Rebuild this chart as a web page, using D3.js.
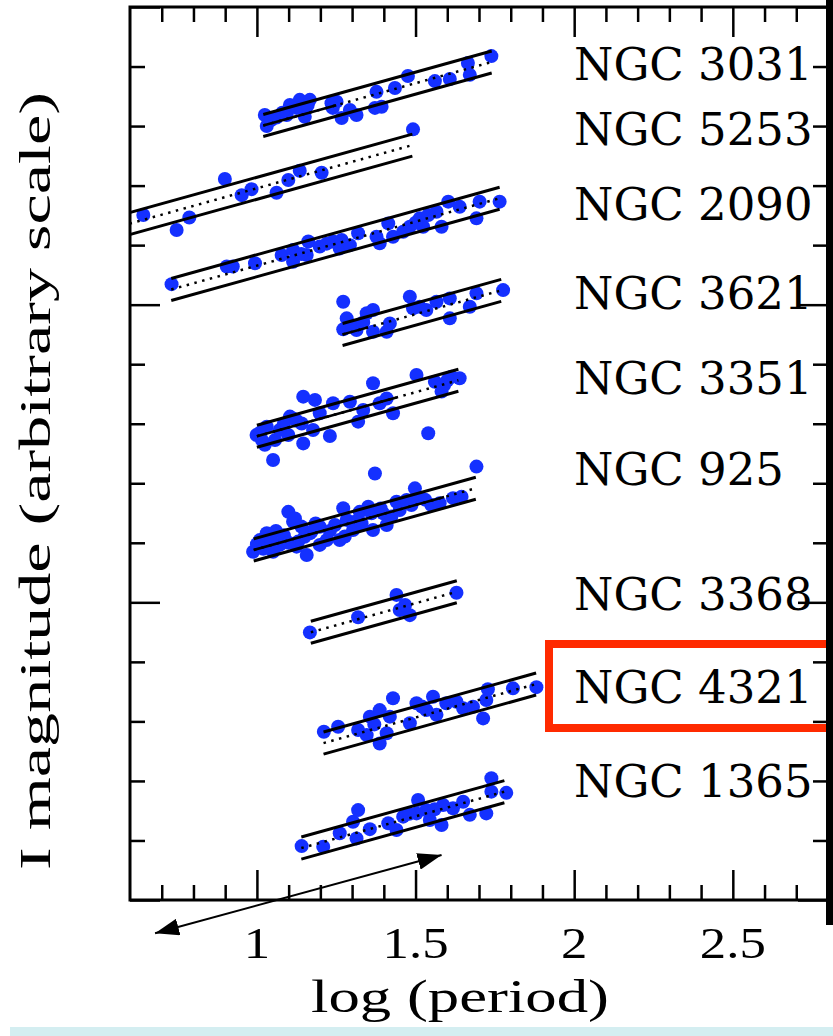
<!DOCTYPE html>
<html>
<head>
<meta charset="utf-8">
<script src="https://cdn.jsdelivr.net/npm/d3@7"></script>
<style>
  html, body { margin: 0; padding: 0; background: #fff; }
  svg { display: block; }
</style>
</head>
<body>
<div id="chart"></div>
<script>
// galaxies, top to bottom
const galaxies = ["NGC 3031", "NGC 5253", "NGC 2090", "NGC 3621", "NGC 3351",
                  "NGC 925", "NGC 3368", "NGC 4321", "NGC 1365"];

// P-L fit: magnitude at log P = 1, common slope, half width of the band
const zeroPoints = [4.04, 6.09, 8.69, 11.80, 14.42, 18.21, 21.51, 25.35, 28.67];
const fitStart   = [1.02, 0.55, 0.73, 1.27, 1.00, 0.99, 1.17, 1.21, 1.14];
const fitEnd     = [1.74, 1.49, 1.765, 1.77, 1.635, 1.69, 1.63, 1.88, 1.78];
const solidMidTo = [1.25, null, null, 1.35, 1.44, 1.59, null, null, null];
const slope = -2.96;
const halfWidth = 0.37;

// cepheids [log P, I mag (arbitrary)]
const pts3031 = [[1.025,3.63],[1.031,4.00],[1.062,3.71],[1.094,3.63],[1.104,3.29],[1.135,3.12],
  [1.167,3.12],[1.151,3.69],[1.125,3.39],[1.235,3.23],[1.251,3.18],[1.239,3.39],[1.267,3.73],
  [1.293,3.46],[1.314,3.63],[1.377,2.85],[1.372,3.39],[1.393,3.35],[1.435,2.72],[1.476,2.32],
  [1.561,2.49],[1.608,2.42],[1.665,1.88],[1.671,2.28],[1.739,1.65],[1.045,3.80],[1.080,3.55],
  [1.160,3.30]];
const pts5253 = [[0.642,6.99],[0.747,7.49],[0.787,7.07],[0.899,5.78],[0.952,6.32],[0.983,6.12],
  [1.062,6.24],[1.099,5.81],[1.135,5.50],[1.204,5.57],[1.492,4.11]];
const pts2090 = [[0.731,9.31],[0.905,8.72],[0.924,8.72],[0.994,8.61],[1.078,8.33],[1.114,8.16],
  [1.114,8.56],[1.162,7.88],[1.157,8.33],[1.198,8.05],[1.240,7.88],[1.267,7.83],[1.261,8.11],
  [1.293,8.00],[1.319,7.60],[1.377,7.72],[1.387,7.94],[1.414,7.27],[1.429,7.72],[1.461,7.55],
  [1.482,7.38],[1.513,7.10],[1.524,7.38],[1.540,6.99],[1.566,6.88],[1.582,7.38],[1.603,6.54],
  [1.639,6.71],[1.692,7.10],[1.702,6.54],[1.765,6.54],[1.140,8.30],[1.220,7.95],[1.500,7.25]];
const pts3621 = [[1.272,9.90],[1.283,10.46],[1.272,10.83],[1.314,10.85],[1.346,10.29],[1.366,10.18],
  [1.366,10.91],[1.409,10.91],[1.419,10.63],[1.482,9.73],[1.492,10.12],[1.513,10.07],[1.534,10.18],
  [1.566,9.90],[1.608,9.79],[1.608,10.46],[1.671,10.07],[1.692,9.62],[1.776,9.51],[1.300,10.70],
  [1.335,10.60]];
const pts3351 = [[0.999,14.38],[1.025,14.71],[1.051,15.22],[1.057,14.55],[1.099,14.38],[1.104,13.76],
  [1.146,13.09],[1.146,14.66],[1.183,13.20],[1.198,13.65],[1.177,14.21],[1.230,14.41],[1.240,13.31],
  [1.293,13.26],[1.319,13.93],[1.335,13.54],[1.366,12.64],[1.387,13.31],[1.409,13.15],[1.429,13.65],
  [1.503,12.36],[1.540,14.32],[1.561,12.59],[1.582,12.92],[1.613,12.42],[1.639,12.47],
  [1.016,14.55],[1.072,14.21],[1.031,14.10],[1.114,13.82],[1.141,13.99],[1.010,14.30],[1.085,14.00],
  [1.125,13.90],[1.590,12.70],[1.600,12.55]];
const pts925 = [[0.988,18.30],[1.031,17.68],[1.051,18.30],[1.099,16.96],[1.114,17.29],[1.125,18.13],
  [1.157,18.41],[1.167,17.68],[1.198,17.46],[1.220,17.91],[1.261,17.91],[1.272,16.84],[1.283,17.23],
  [1.303,17.57],[1.324,16.96],[1.351,16.79],[1.366,17.57],[1.372,15.67],[1.398,17.01],[1.409,17.40],
  [1.440,16.62],[1.472,16.56],[1.498,16.17],[1.508,16.50],[1.550,16.73],[1.576,16.67],[1.618,16.50],
  [1.645,16.45],[1.692,15.44],[1.120,17.18],[1.130,17.96],[1.172,17.63],[1.277,17.79],[1.309,17.29],
  [1.361,17.01],[1.424,17.12],[1.487,16.73],[1.009,17.91],[1.072,18.07],[1.198,18.07],[1.246,17.40],
  [1.450,16.90],[1.000,18.05],[1.020,18.20],[1.045,17.90],[1.060,17.60],[1.085,17.75],[1.100,18.00],
  [1.140,17.45],[1.150,17.80],[1.185,17.35],[1.230,17.60],[1.330,17.35],[1.390,16.85],[1.530,16.55]];
const pts3368 = [[1.167,21.01],[1.319,20.50],[1.450,20.26],[1.482,20.43],[1.440,19.75],[1.629,19.68],
  [1.467,20.09]];
const pts4321 = [[1.211,24.35],[1.256,24.18],[1.319,24.29],[1.346,24.46],[1.356,23.84],[1.387,23.62],
  [1.387,24.74],[1.409,24.40],[1.419,23.84],[1.429,23.22],[1.482,24.06],[1.503,23.39],[1.534,23.62],
  [1.555,23.17],[1.566,23.78],[1.597,23.39],[1.629,23.34],[1.650,23.56],[1.681,23.51],[1.713,23.90],
  [1.723,23.28],[1.728,22.92],[1.807,22.89],[1.881,22.85],[1.370,24.10],[1.520,23.50]];
const pts1365 = [[1.141,28.19],[1.209,28.21],[1.261,27.76],[1.303,27.37],[1.319,26.98],[1.314,27.93],
  [1.356,27.62],[1.414,27.42],[1.440,27.65],[1.461,27.20],[1.503,27.09],[1.508,26.64],[1.534,26.98],
  [1.545,27.31],[1.582,27.48],[1.587,26.81],[1.618,26.92],[1.650,26.70],[1.671,27.14],[1.723,27.09],
  [1.739,25.91],[1.739,26.36],[1.786,26.40],[1.480,27.10],[1.560,26.95]];
const points = [pts3031, pts5253, pts2090, pts3621, pts3351, pts925, pts3368, pts4321, pts1365];

// axes
const xMajorTicks = [1, 1.5, 2, 2.5];
const xMinorTicks = [0.7, 0.8, 0.9, 1.1, 1.2, 1.3, 1.4, 1.6, 1.7, 1.8, 1.9, 2.1, 2.2, 2.3, 2.4, 2.6, 2.7];
const xTickLabels = ["1", "1.5", "2", "2.5"];
const yMajorTicks = [0, 10, 20, 30];
const yMinorTicks = [2, 4, 6, 8, 12, 14, 16, 18, 22, 24, 26, 28];

// double arrow drawn under the axis, [log P, mag]
const arrowFrom = [0.679, 31.12];
const arrowTo = [1.582, 28.49];

// label baselines (px) and the highlighted galaxy
const labelY = [80, 145, 220, 309, 394, 485, 610, 703, 797];
const highlight = "NGC 4321";

const W = 833, H = 1036;
const blue = "#1430ff";

const svg = d3.select("#chart").append("svg")
  .attr("width", W)
  .attr("height", H);

const x = d3.scaleLinear().domain([0.6, 2.8]).range([130, 828]);
const y = d3.scaleLinear().domain([0, 30]).range([7, 900]);

const defs = svg.append("defs");
defs.append("clipPath").attr("id", "plotclip")
  .append("rect")
  .attr("x", x(0.6)).attr("y", y(0))
  .attr("width", x(2.8) - x(0.6)).attr("height", y(30) - y(0));

defs.append("marker")
  .attr("id", "head")
  .attr("viewBox", "0 0 10 10")
  .attr("refX", 10).attr("refY", 5)
  .attr("markerWidth", 24).attr("markerHeight", 17)
  .attr("markerUnits", "userSpaceOnUse")
  .attr("preserveAspectRatio", "none")
  .attr("orient", "auto-start-reverse")
  .append("path")
  .attr("d", "M0,0 L10,5 L0,10 Z")
  .attr("fill", "#000");

// bottom light strip
svg.append("rect")
  .attr("x", 10).attr("y", 1027)
  .attr("width", W - 10).attr("height", 9)
  .attr("fill", "#d4eef1");

const plot = svg.append("g").attr("clip-path", "url(#plotclip)");

// points first, lines over them
points.forEach(function (pts) {
  plot.append("g")
    .selectAll("circle")
    .data(pts)
    .join("circle")
    .attr("cx", d => x(d[0]))
    .attr("cy", d => y(d[1]))
    .attr("r", 7)
    .attr("fill", blue);
});

const line = d3.line().x(d => x(d[0])).y(d => y(d[1]));

galaxies.forEach(function (name, i) {
  const f = lp => zeroPoints[i] + slope * (lp - 1);
  const a = fitStart[i], b = fitEnd[i];
  [-halfWidth, halfWidth].forEach(function (off) {
    plot.append("path")
      .attr("d", line([[a, f(a) + off], [b, f(b) + off]]))
      .attr("fill", "none")
      .attr("stroke", "#000")
      .attr("stroke-width", 3);
  });
  plot.append("path")
    .attr("d", line([[a, f(a)], [b, f(b)]]))
    .attr("fill", "none")
    .attr("stroke", "#000")
    .attr("stroke-width", 2.5)
    .attr("stroke-dasharray", "2.5,5.5");
  if (solidMidTo[i] != null) {
    plot.append("path")
      .attr("d", line([[a, f(a)], [solidMidTo[i], f(solidMidTo[i])]]))
      .attr("fill", "none")
      .attr("stroke", "#000")
      .attr("stroke-width", 2.5);
  }
});

// ticks on all four sides, pointing in
function ticks(axis, tr) {
  const g = svg.append("g").attr("transform", tr).call(axis);
  g.select(".domain").remove();
  g.selectAll("line").attr("stroke", "#000").attr("stroke-width", 2.5);
  g.selectAll("text").remove();
}
ticks(d3.axisBottom(x).tickValues(xMinorTicks).tickSize(-15), `translate(0,${y(30)})`);
ticks(d3.axisBottom(x).tickValues(xMajorTicks).tickSize(-30), `translate(0,${y(30)})`);
ticks(d3.axisTop(x).tickValues(xMinorTicks).tickSize(-15), `translate(0,${y(0)})`);
ticks(d3.axisTop(x).tickValues(xMajorTicks).tickSize(-30), `translate(0,${y(0)})`);
ticks(d3.axisLeft(y).tickValues(yMinorTicks).tickSize(-15), `translate(${x(0.6)},0)`);
ticks(d3.axisLeft(y).tickValues(yMajorTicks).tickSize(-30), `translate(${x(0.6)},0)`);
ticks(d3.axisRight(y).tickValues(yMinorTicks).tickSize(-15), `translate(${x(2.8)},0)`);
ticks(d3.axisRight(y).tickValues(yMajorTicks).tickSize(-30), `translate(${x(2.8)},0)`);

// frame
svg.append("rect")
  .attr("x", x(0.6)).attr("y", y(0))
  .attr("width", x(2.8) - x(0.6)).attr("height", y(30) - y(0))
  .attr("fill", "none")
  .attr("stroke", "#000")
  .attr("stroke-width", 3);

// tick labels
svg.append("g").selectAll("text")
  .data(xMajorTicks)
  .join("text")
  .attr("transform", d => `translate(${x(d)},958) scale(1.2,1)`)
  .attr("text-anchor", "middle")
  .attr("font-family", "Liberation Serif")
  .attr("font-size", 44)
  .attr("fill", "#000")
  .text((d, i) => xTickLabels[i]);

// axis titles
svg.append("text")
  .attr("x", 460).attr("y", 1012)
  .attr("text-anchor", "middle")
  .attr("font-family", "Liberation Serif")
  .attr("font-size", 46)
  .attr("textLength", 298)
  .attr("lengthAdjust", "spacingAndGlyphs")
  .text("log (period)");

svg.append("text")
  .attr("transform", "translate(50,481) rotate(-90)")
  .attr("text-anchor", "middle")
  .attr("font-family", "Liberation Serif")
  .attr("font-size", 45)
  .attr("textLength", 778)
  .attr("lengthAdjust", "spacingAndGlyphs")
  .text("I magnitude (arbitrary scale)");

// galaxy names
svg.append("g").selectAll("text")
  .data(galaxies)
  .join("text")
  .attr("x", 574)
  .attr("y", (d, i) => labelY[i])
  .attr("font-family", "DejaVu Serif")
  .attr("font-size", 45)
  .attr("fill", "#000")
  .text(d => d);

// highlight box around one galaxy name
const hi = galaxies.indexOf(highlight);
svg.append("rect")
  .attr("x", 549).attr("y", labelY[hi] - 59)
  .attr("width", 320).attr("height", 84)
  .attr("fill", "none")
  .attr("stroke", "#ff2a00")
  .attr("stroke-width", 8);

// arrow
svg.append("line")
  .attr("x1", x(arrowFrom[0])).attr("y1", y(arrowFrom[1]))
  .attr("x2", x(arrowTo[0])).attr("y2", y(arrowTo[1]))
  .attr("stroke", "#000")
  .attr("stroke-width", 2)
  .attr("marker-start", "url(#head)")
  .attr("marker-end", "url(#head)");

// thick right edge
svg.append("rect")
  .attr("x", 826).attr("y", 0)
  .attr("width", 7).attr("height", 925)
  .attr("fill", "#000");
</script>
</body>
</html>
